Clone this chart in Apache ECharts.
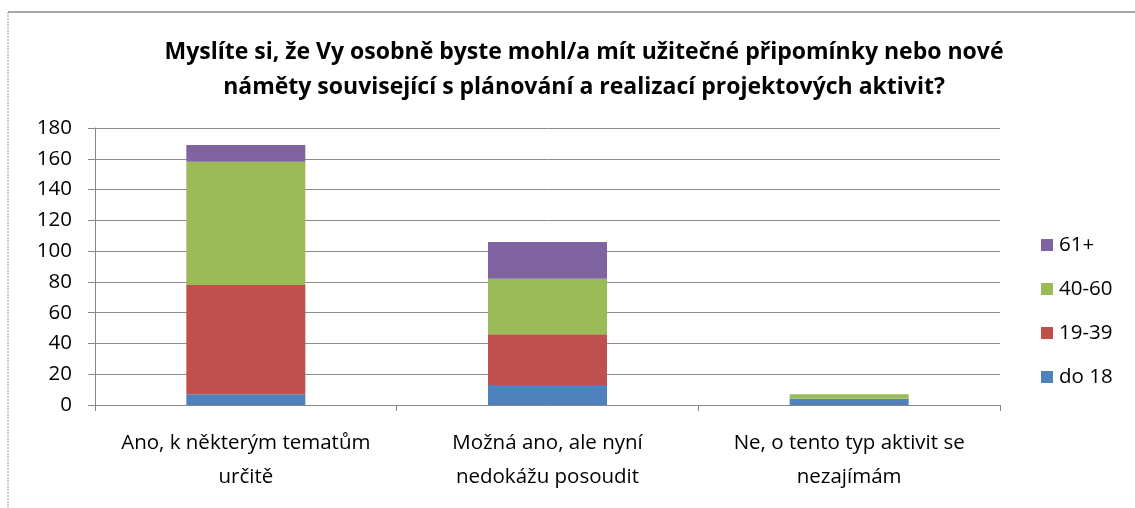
<!DOCTYPE html>
<html>
<head>
<meta charset="utf-8">
<script src="https://cdn.jsdelivr.net/npm/echarts@6/dist/echarts.min.js"></script>
<style>
html,body{margin:0;padding:0;background:#fff;}
#chart{width:1135px;height:508px;}
</style>
</head>
<body>
<div id="chart"></div>
<script>
const categories = [
  'Ano, k některým tematům\nurčitě',
  'Možná ano, ale nyní\nnedokážu posoudit',
  'Ne, o tento typ aktivit se\nnezajímám'
];
const seriesNames = ['do 18', '19-39', '40-60', '61+'];
const do18 = [7, 13, 4];
const age19to39 = [71, 33, 0];
const age40to60 = [80, 36, 3];
const age61plus = [11, 24, 0];
const yTicks = [0, 20, 40, 60, 80, 100, 120, 140, 160, 180];
const colors = ['#4F81BD', '#C0504D', '#9BBB59', '#8064A2'];
const titleText = 'Myslíte si, že Vy osobně byste mohl/a mít užitečné připomínky nebo nové\nnáměty související s plánování a realizací projektových aktivit?';

const FONT = 'Open Sans';
const values = [do18, age19to39, age40to60, age61plus];

const chart = echarts.init(document.getElementById('chart'), null, {renderer: 'canvas'});
chart.setOption({
  animation: false,
  backgroundColor: '#fff',
  title: {
    text: titleText,
    left: 579,
    top: 30,
    textAlign: 'center',
    textStyle: {fontFamily: FONT, fontSize: 23, fontWeight: 'bold', color: '#000', lineHeight: 35}
  },
  legend: {
    orient: 'vertical',
    left: 1036,
    top: 228,
    itemWidth: 12,
    itemHeight: 12,
    itemGap: 20,
    icon: 'rect',
    data: seriesNames.slice().reverse(),
    textStyle: {fontFamily: FONT, fontSize: 20.5, color: '#000', lineHeight: 24, padding: [0, 0, 0, 1]}
  },
  grid: {left: 95, right: 135, top: 128, bottom: 103, containLabel: false},
  xAxis: {
    type: 'category',
    data: categories,
    axisLine: {lineStyle: {color: '#868686', width: 1}},
    axisTick: {show: true, length: 6, alignWithLabel: false, lineStyle: {color: '#868686'}},
    axisLabel: {fontFamily: FONT, fontSize: 20.5, color: '#000', lineHeight: 34, margin: 21, interval: 0}
  },
  yAxis: {
    type: 'value',
    min: yTicks[0],
    max: yTicks[yTicks.length - 1],
    interval: yTicks[1] - yTicks[0],
    axisLine: {show: true, lineStyle: {color: '#868686', width: 1}},
    axisTick: {show: true, length: 7, lineStyle: {color: '#868686'}},
    splitLine: {lineStyle: {color: '#8c8c8c', width: 1}},
    axisLabel: {fontFamily: FONT, fontSize: 20.5, color: '#000', margin: 23}
  },
  series: seriesNames.map((name, i) => ({
    name: name,
    type: 'bar',
    stack: 'total',
    barWidth: 119,
    itemStyle: {color: colors[i]},
    data: values[i]
  })),
  graphic: [
    {type: 'line', shape: {x1: 8, y1: 12, x2: 1135, y2: 12}, style: {stroke: '#8a8a8a', lineWidth: 1.5}},
    {type: 'line', shape: {x1: 8, y1: 12, x2: 8, y2: 508}, style: {stroke: '#9a9a9a', lineWidth: 1, lineDash: [2, 1]}}
  ]
});
</script>
</body>
</html>
